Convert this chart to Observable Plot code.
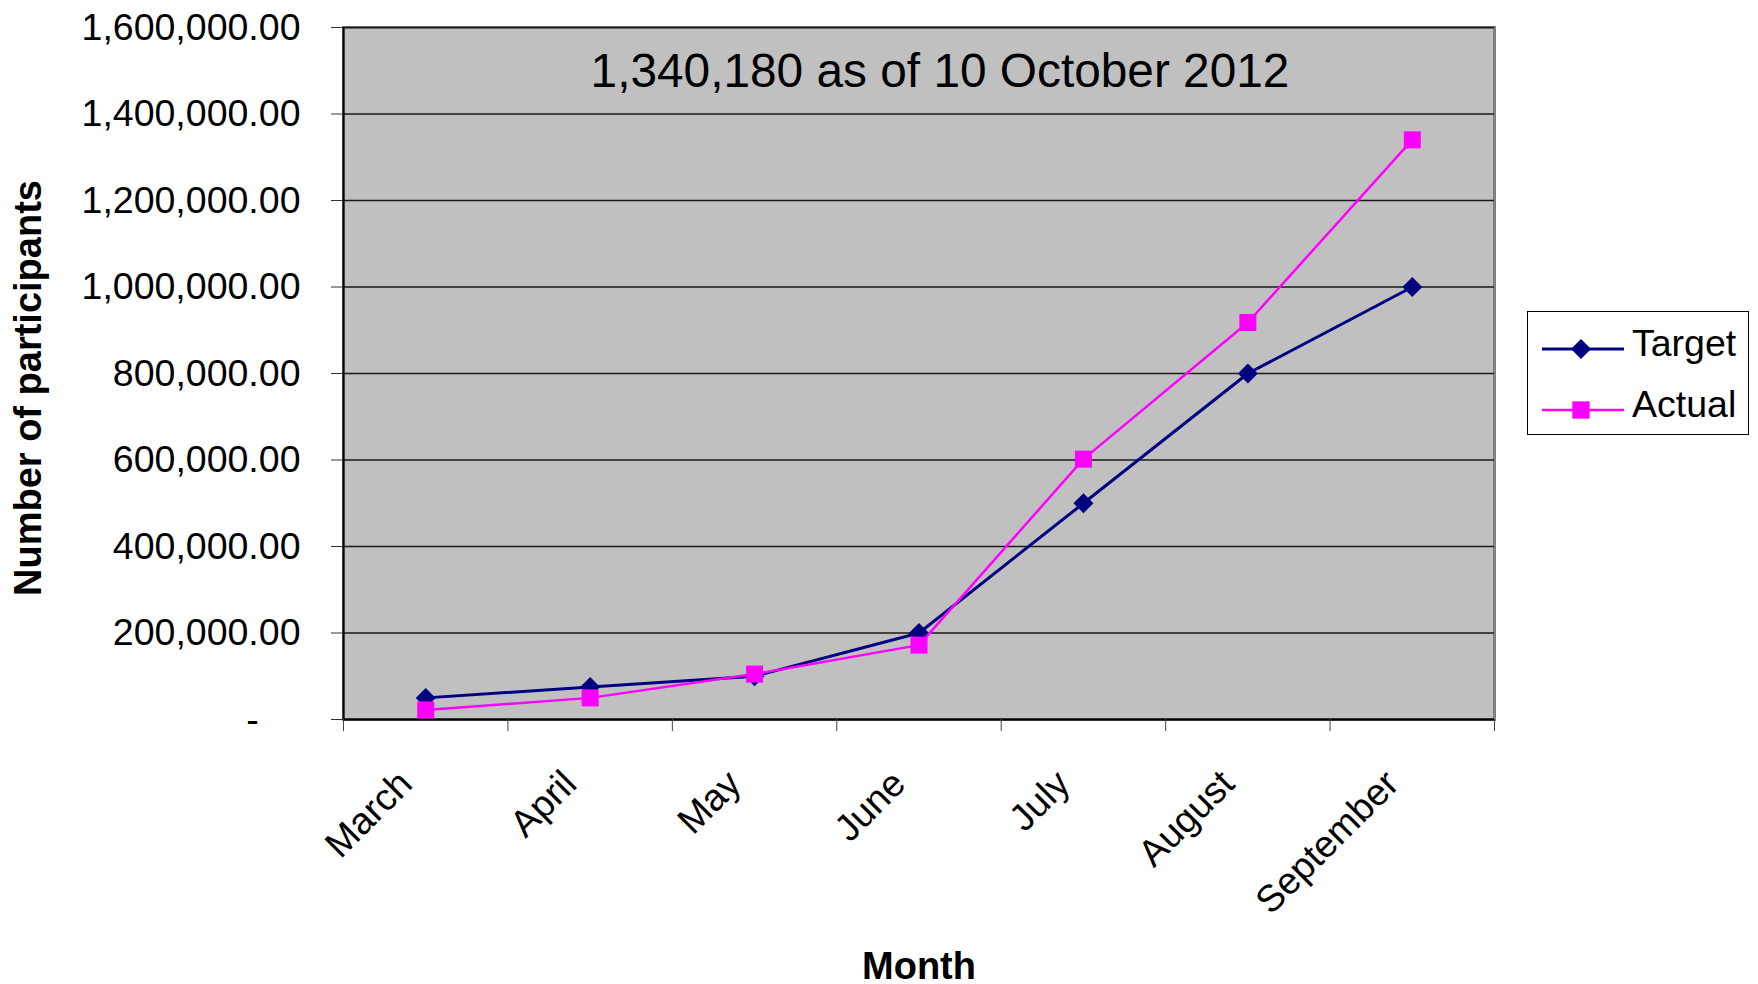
<!DOCTYPE html>
<html>
<head>
<meta charset="utf-8">
<script src="https://cdn.jsdelivr.net/npm/d3@7"></script>
<script src="https://cdn.jsdelivr.net/npm/@observablehq/plot@0.6"></script>
<style>
  body { margin: 0; background: #fff; }
  #wrap { position: relative; width: 1758px; height: 984px; }
  #legend { position: absolute; left: 1527px; top: 311px; width: 220px; height: 122px;
            border: 1.5px solid #000; background: #fff; }
  #ytitle { position: absolute; left: 28px; top: 388px; transform: translate(-50%, -50%) rotate(-90deg);
            white-space: nowrap; font-family: 'Liberation Sans', Arial, sans-serif; font-weight: bold;
            font-size: 38px; line-height: 1; color: #000; }
</style>
</head>
<body>
<div id="wrap">
  <div id="chart"></div>
  <div id="ytitle"></div>
  <div id="legend"></div>
</div>
<script>
// ---- data ----
const months = ["March", "April", "May", "June", "July", "August", "September"];
const target = [50000, 75000, 100000, 200000, 500000, 800000, 1000000];
const actual = [22000, 50000, 105000, 172000, 602000, 918000, 1340180];
const yTicks = [0, 200000, 400000, 600000, 800000, 1000000, 1200000, 1400000, 1600000];
const seriesNames = ["Target", "Actual"];
const seriesColors = ["#000080", "#ff00ff"];
const seriesSymbols = ["diamond2", "square"];
const asOfText = "as of 10 October 2012";
const xTitle = "Month";
const yTitle = "Number of participants";

// ---- build ----
const targetRows = months.map((m, i) => ({i, month: m, value: target[i]}));
const actualRows = months.map((m, i) => ({i, month: m, value: actual[i]}));
const xDomain = [-0.5, months.length - 0.5];
const boundaries = d3.range(months.length + 1).map(k => k - 0.5);
const fmt = d3.format(",.2f");
const font = "'Liberation Sans', Arial, Helvetica, sans-serif";
const headline = d3.format(",")(actual[actual.length - 1]) + " " + asOfText;

const chart = Plot.plot({
  width: 1758,
  height: 984,
  marginLeft: 343,
  marginRight: 264,
  marginTop: 27,
  marginBottom: 265,
  x: {domain: xDomain},
  y: {domain: [yTicks[0], yTicks[yTicks.length - 1]]},
  style: {fontFamily: font, fontSize: "37px", color: "#000", background: "transparent", overflow: "visible"},
  marks: [
    Plot.frame({fill: "#c0c0c0", stroke: "#808080", strokeWidth: 3}),
    Plot.gridY(yTicks, {stroke: "#1a1a1a", strokeOpacity: 1, strokeWidth: 1.3}),
    Plot.ruleX([xDomain[0]], {stroke: "#000", strokeWidth: 2}),
    Plot.ruleY([0], {stroke: "#000", strokeWidth: 2}),
    Plot.axisY({ticks: yTicks, tickSize: 12, tickPadding: 31, label: null, stroke: "#333",
      fontSize: 37.5, tickFormat: d => d === 0 ? "-\u2007\u2007" : fmt(d)}),
    Plot.axisX({ticks: boundaries, tickSize: 12, tickFormat: () => "", label: null, stroke: "#444"}),
    Plot.axisX({ticks: d3.range(months.length), tickSize: 0, tickPadding: 58, tickRotate: -45,
      tickFormat: i => months[i], label: null, fontSize: 37.5, dx: -20}),
    Plot.line(targetRows, {x: "i", y: "value", stroke: seriesColors[0], strokeWidth: 3}),
    Plot.dot(targetRows, {x: "i", y: "value", symbol: seriesSymbols[0], r: 9, fill: seriesColors[0], stroke: null}),
    Plot.line(actualRows, {x: "i", y: "value", stroke: seriesColors[1], strokeWidth: 2.5}),
    Plot.dot(actualRows, {x: "i", y: "value", symbol: seriesSymbols[1], r: 9.6, fill: seriesColors[1], stroke: null}),
    Plot.text([headline], {text: d => d, frameAnchor: "top", dx: 21, dy: 44, fontSize: 47.8, lineAnchor: "middle"}),
    Plot.text([xTitle], {text: d => d, frameAnchor: "bottom", dy: 259, fontSize: 38, fontWeight: "bold", lineAnchor: "bottom"})
  ]
});
document.getElementById("chart").appendChild(chart);
document.getElementById("ytitle").textContent = yTitle;

// ---- legend ----
const lg = d3.select("#legend").append("svg").attr("width", 220).attr("height", 122)
  .style("font-family", font).style("font-size", "37.5px");
const rowsY = [37, 98];
seriesNames.forEach((name, k) => {
  const g = lg.append("g").attr("transform", `translate(0,${rowsY[k]})`);
  g.append("line").attr("x1", 14).attr("x2", 96).attr("stroke", seriesColors[k]).attr("stroke-width", k === 0 ? 3 : 2.5);
  const sym = k === 0 ? d3.symbolDiamond2 : d3.symbolSquare;
  g.append("path").attr("transform", "translate(53,0)")
    .attr("d", d3.symbol(sym, k === 0 ? 255 : 300)()).attr("fill", seriesColors[k]);
  g.append("text").attr("x", 104).attr("y", -6).attr("dy", "0.35em").text(name);
});
</script>
</body>
</html>
